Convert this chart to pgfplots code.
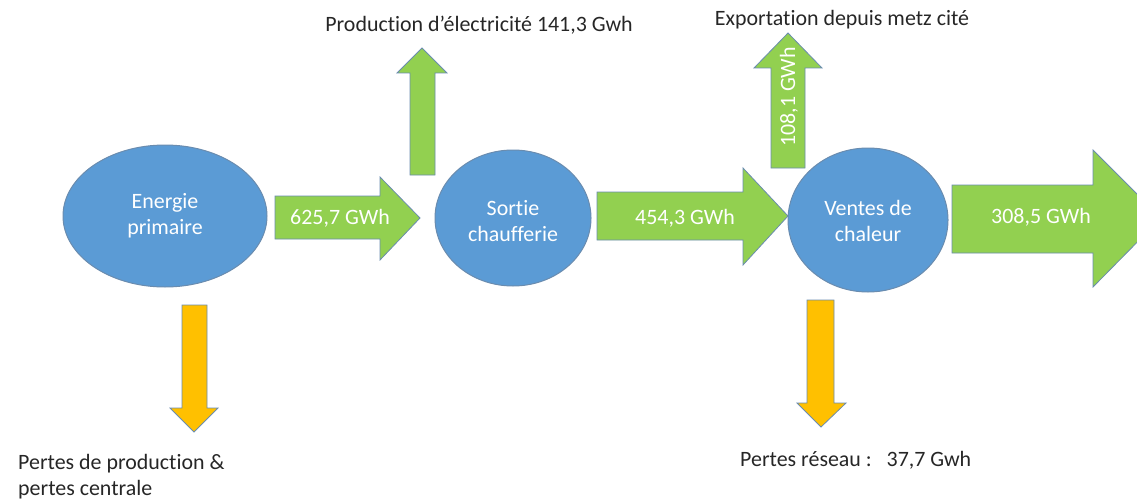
\documentclass[border=0pt]{standalone}
\usepackage{pgfplots}
\pgfplotsset{compat=1.18}
\usepackage{fontspec}
\setmainfont{Carlito}[Ligatures={NoCommon}]
\definecolor{eblue}{HTML}{5B9BD5}
\definecolor{eline}{HTML}{6A8CAF}
\definecolor{egreen}{HTML}{92D050}
\definecolor{eorange}{HTML}{FFC000}
\definecolor{etext}{HTML}{262626}
\begin{document}
\begin{tikzpicture}[t/.style={font=\fontsize{22}{26}\selectfont, inner sep=0pt}]
\begin{axis}[
  width=1137bp, height=501bp, scale only axis,
  xmin=0, xmax=1137, ymin=0, ymax=501, y dir=reverse,
  axis lines=none, clip=true,
]
% ellipses
\draw[fill=eblue, draw=eline, line width=1pt] (axis cs:165,216) ellipse [x radius=102, y radius=71];
\draw[fill=eblue, draw=eline, line width=1pt] (axis cs:513,218) ellipse [x radius=78, y radius=68];
\draw[fill=eblue, draw=eline, line width=1pt] (axis cs:868,220) ellipse [x radius=80, y radius=72];
% green right arrows
\addplot[fill=egreen, draw=eline, line width=0.8pt] coordinates {(275,196)(380,196)(380,177)(420,218)(380,260)(380,239)(275,239)} -- cycle;
\addplot[fill=egreen, draw=eline, line width=0.8pt] coordinates {(597,192)(743,192)(743,168)(788,216)(743,265)(743,240)(597,240)} -- cycle;
\addplot[fill=egreen, draw=eline, line width=0.8pt] coordinates {(952,185)(1093,185)(1093,150)(1161,218)(1093,287)(1093,253)(952,253)} -- cycle;
% green up arrows
\addplot[fill=egreen, draw=eline, line width=0.8pt] coordinates {(410,175)(410,73)(397,73)(422,48)(447,73)(435,73)(435,175)} -- cycle;
\addplot[fill=egreen, draw=eline, line width=0.8pt] coordinates {(771,168)(771,68)(754,68)(788,33)(822,68)(805,68)(805,168)} -- cycle;
% orange down arrows
\addplot[fill=eorange, draw=eline, line width=0.8pt] coordinates {(182,305)(207,305)(207,408)(218,408)(194,432)(170,408)(182,408)} -- cycle;
\addplot[fill=eorange, draw=eline, line width=0.8pt] coordinates {(807,300)(834,300)(834,403)(846,403)(821,427)(797,403)(807,403)} -- cycle;
% texts in shapes
\node[t, white, align=center] at (axis cs:165,216) {Energie\\primaire};
\node[t, white, align=center] at (axis cs:513,221) {Sortie\\chaufferie};
\node[t, white, align=center] at (axis cs:868,221) {Ventes de\\chaleur};
\node[t, white] at (axis cs:340,218) {625,7 GWh};
\node[t, white] at (axis cs:685,218) {454,3 GWh};
\node[t, white] at (axis cs:1041,217) {308,5 GWh};
\node[t, white, rotate=90] at (axis cs:789,97) {108,1 GWh};
% outside texts
\node[t, etext] at (axis cs:479,25) {Production d'électricité 141,3 Gwh};
\node[t, etext] at (axis cs:842,20) {Exportation depuis metz cité};
\node[t, etext, anchor=west, align=left] at (axis cs:18,477) {Pertes de production \&\\pertes centrale};
\node[t, etext, anchor=west] at (axis cs:740,460) {Pertes réseau :\ \ \ 37,7 Gwh};
\end{axis}
\pgfresetboundingbox
\path (0,0) rectangle (1137bp,501bp);
\end{tikzpicture}
\end{document}
